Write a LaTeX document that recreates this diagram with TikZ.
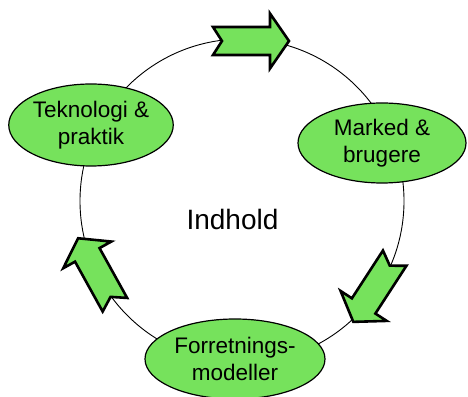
\documentclass[tikz,border=0pt]{standalone}
\usepackage{fontspec}
\setmainfont{Liberation Sans}
\usetikzlibrary{shapes.geometric}

\definecolor{leafgreen}{RGB}{118,226,92}

\tikzset{
  phase/.style={ellipse, draw=black, line width=1.2pt, fill=leafgreen,
    inner sep=0pt, align=center, font=\fontsize{22.5}{27}\selectfont},
  turnarrow/.style={draw=black, line width=2.6pt, fill=leafgreen, line join=miter},
  bigarrow/.pic={
    \draw [turnarrow] (-38,14) -- (19,14) -- (19,27.5) -- (38,0) -- (19,-27.5)
      -- (19,-14) -- (-38,-14) -- (-29,0) -- cycle;
  }
}

\begin{document}
\begin{tikzpicture}[x=1pt, y=1pt]

    \useasboundingbox (0,0) rectangle (468,396);

    % ring
    \draw [line width=0.9pt] (242,195) circle (162);

    % arrows
    \pic at (251,355) {bigarrow};
    \pic [rotate=-123] at (374,106) {bigarrow};
    \pic [rotate=119] at (96.5,124.5) {bigarrow};

    % phases
    \node (tek) [phase, minimum width=164pt, minimum height=82pt] at (91,271) {Teknologi \&\\praktik};
    \node (mark) [phase, minimum width=168pt, minimum height=80pt] at (382,253) {Marked \&\\brugere};
    \node (forr) [phase, minimum width=180pt, minimum height=80pt] at (235,37) {Forretnings-\\modeller};

    % middle
    \node (mid) [font=\fontsize{28}{32}\selectfont] at (232.5,177) {Indhold};

\end{tikzpicture}
\end{document}
